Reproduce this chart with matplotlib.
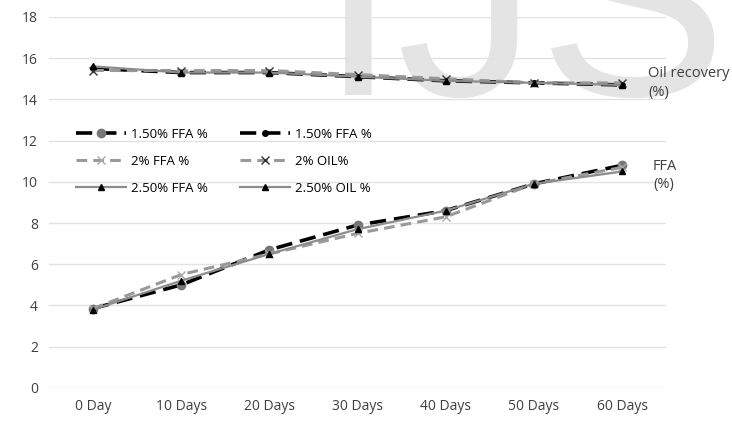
import matplotlib.pyplot as plt

plt.rcParams['font.family'] = ['Open Sans', 'DejaVu Sans']

days = ['0 Day', '10 Days', '20 Days', '30 Days', '40 Days', '50 Days', '60 Days']

ffa_150 = [3.85, 5.0, 6.7, 7.9, 8.6, 9.9, 10.8]
oil_150 = [15.5, 15.3, 15.3, 15.1, 14.9, 14.8, 14.7]
ffa_200 = [3.85, 5.5, 6.5, 7.5, 8.3, 9.9, 10.7]
oil_200 = [15.4, 15.4, 15.4, 15.2, 15.0, 14.8, 14.8]
ffa_250 = [3.8, 5.2, 6.5, 7.7, 8.6, 9.9, 10.5]
oil_250 = [15.6, 15.3, 15.3, 15.1, 14.9, 14.8, 14.7]

fig = plt.figure(figsize=(7.32, 4.23), dpi=100)
ax = fig.add_axes([0.067, 0.083, 0.843, 0.877])

# faint watermark behind the plot
fig.text(0.436, 0.776, 'IJS', fontsize=204, family='Liberation Sans', color='#e4e4e4',
         ha='left', va='baseline', zorder=-1)

x = range(len(days))
l1, = ax.plot(x, ffa_150, color='black', lw=2.6, ls=(0, (4.5, 2.2)), marker='o', ms=6,
              mfc='#777777', mec='#777777', label='1.50% FFA %')
l2, = ax.plot(x, oil_150, color='black', lw=2.6, ls=(0, (4.5, 2.2)), marker='o', ms=4,
              mfc='black', mec='black', label='1.50% FFA %')
l3, = ax.plot(x, ffa_200, color='#999999', lw=2.2, ls=(0, (3.5, 2)), marker='x', ms=6,
              mec='#aaaaaa', label='2% FFA %')
l4, = ax.plot(x, oil_200, color='#999999', lw=2.2, ls=(0, (3.5, 2)), marker='x', ms=6,
              mec='#333333', label='2% OIL%')
l5, = ax.plot(x, ffa_250, color='#8c8c8c', lw=1.6, marker='^', ms=4,
              mfc='black', mec='black', label='2.50% FFA %')
l6, = ax.plot(x, oil_250, color='#8c8c8c', lw=1.6, marker='^', ms=4,
              mfc='black', mec='black', label='2.50% OIL %')

ax.set_xlim(-0.5, 6.5)
ax.set_ylim(0, 18)
ax.set_yticks(range(0, 19, 2))
ax.set_xticks(list(x))
ax.set_xticklabels(days)
ax.grid(axis='y', color='#e3e3e3', lw=1)
ax.set_axisbelow(True)
for s in ax.spines.values():
    s.set_visible(False)
ax.tick_params(length=0, labelsize=10, colors='#404040', pad=8)
ax.patch.set_alpha(0)

# legend fills column by column, so list the left column first
handles = [l1, l3, l5, l2, l4, l6]
ax.legend(handles=handles, labels=[h.get_label() for h in handles],
          loc='upper left', bbox_to_anchor=(0.035, 0.715), ncol=2, frameon=False,
          fontsize=9.5, handlelength=3.8, columnspacing=2.4, labelspacing=1.05,
          handletextpad=0.4, borderaxespad=0)

ax.text(6.3, 14.8, 'Oil recovery\n(%)', fontsize=10.5, color='#404040',
        va='center', ha='left', linespacing=1.3)
ax.text(6.35, 10.3, 'FFA\n(%)', fontsize=10.5, color='#404040',
        va='center', ha='left', linespacing=1.3)

fig.savefig('out.png', dpi=100)
